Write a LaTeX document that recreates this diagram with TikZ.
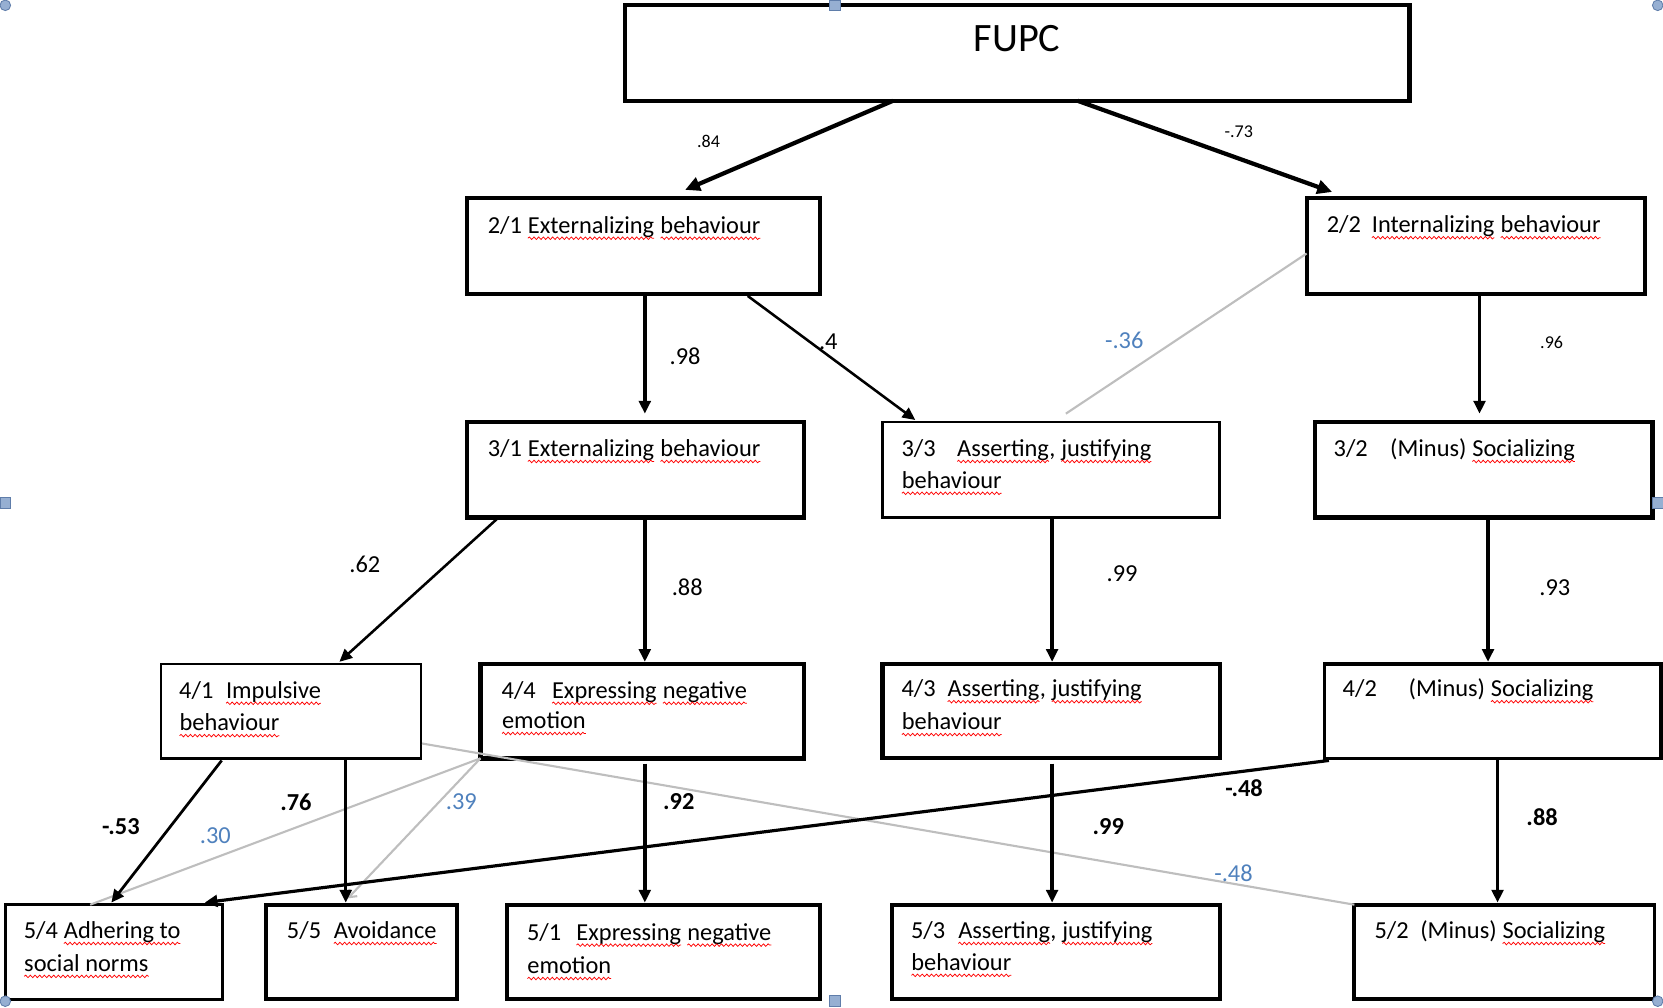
\documentclass[tikz,border=0pt]{standalone}
\usepackage{fontspec}
\setmainfont{Carlito}
\usetikzlibrary{arrows.meta,calc,decorations.pathmorphing}
\definecolor{lblue}{RGB}{79,129,189}
\definecolor{lgray}{RGB}{190,190,190}
\definecolor{hfill}{RGB}{150,175,210}
\definecolor{hdraw}{RGB}{95,125,170}
\tikzset{
  sqline/.style={draw=red, line width=0.35pt, decorate,
    decoration={snake, amplitude=0.6pt, segment length=2.2pt}},
}
\newcommand\sq[1]{\tikz[baseline=(sqw.base)]{\node[inner sep=0pt,outer sep=0pt,anchor=base west,draw=none](sqw){#1};\draw[sqline]([yshift=-2.3pt]sqw.base west)--([yshift=-2.3pt]sqw.base east);}}
\newcommand\wbox[6]{\node[bx, line width=#6pt, minimum width={(#4-#2)*0.5pt}, minimum height={(#5-#3)*0.5pt}] (#1) at (#2,#3) {};}
\begin{document}
\begin{tikzpicture}[x=0.5pt,y=-0.5pt,
  bx/.style={draw=black, inner sep=0pt, outer sep=0pt, anchor=north west},
  tx/.style={inner sep=0pt, outer sep=0pt, anchor=base west, font=\fontsize{11.5}{14}\selectfont},
  lab/.style={inner sep=0pt, outer sep=0pt, font=\fontsize{11.5}{14}\selectfont},
  blab/.style={inner sep=0pt, outer sep=0pt, font=\fontsize{11.5}{14}\selectfont\bfseries},
  slab/.style={inner sep=0pt, outer sep=0pt, font=\fontsize{8.5}{10}\selectfont},
  ulab/.style={lab, text=lblue},
  arr/.style={draw=black, line width=1.6pt, -{Triangle[length=6pt,width=5.5pt]}},
  garr/.style={draw=lgray, line width=1pt},
  hc/.style={fill=hfill, draw=hdraw, line width=0.4pt},
]
\useasboundingbox (0,0) rectangle (1568,950);
\clip (0,0) rectangle (1568,950);

% boxes
\wbox{fupc}{589}{5}{1329}{95}{2}
\wbox{b21}{440}{187}{773}{277}{1.8}
\wbox{b22}{1232}{187}{1551}{277}{1.8}
\wbox{b31}{440}{398}{758}{488}{2}
\wbox{b33}{832}{398}{1150}{488}{1.2}
\wbox{b32}{1240}{398}{1558}{488}{2.2}
\wbox{b41}{152}{626}{397}{715}{1.2}
\wbox{b44}{453}{626}{758}{715}{2.2}
\wbox{b43}{832}{626}{1150}{715}{2}
\wbox{b42}{1249}{626}{1566}{715}{1.6}
\wbox{b54}{5}{853}{210}{942}{1.4}
\wbox{b55}{251}{853}{431}{942}{2}
\wbox{b51}{478}{853}{773}{942}{2}
\wbox{b53}{841}{853}{1150}{942}{2}
\wbox{b52}{1277}{853}{1560}{942}{1.8}

% texts
\node[inner sep=0pt, anchor=base, font=\fontsize{19}{22}\selectfont] (tfupc) at (959,49) {FUPC};
\node[tx] (t21) at (460,220) {2/1 \sq{Externalizing} \sq{behaviour}};
\node[tx] (t22) at (1251,219.5) {2/2\hspace{5pt}\sq{Internalizing} \sq{behaviour}};
\node[tx] (t31) at (460,430.5) {3/1 \sq{Externalizing} \sq{behaviour}};
\node[tx] (t33a) at (850,430.5) {3/3\hspace{10pt}\sq{Asserting}, \sq{justifying}};
\node[tx] (t33b) at (850,460.5) {\sq{behaviour}};
\node[tx] (t32) at (1257.5,430.5) {3/2\hspace{10.5pt}(Minus) \sq{Socializing}};
\node[tx] (t41a) at (169,658.5) {4/1\hspace{5.8pt}\sq{Impulsive}};
\node[tx] (t41b) at (169,689) {\sq{behaviour}};
\node[tx] (t44a) at (473,658.5) {4/4\hspace{7.5pt}\sq{Expressing} \sq{negative}};
\node[tx] (t44b) at (473,687) {\sq{emotion}};
\node[tx] (t43a) at (850,657) {4/3\hspace{5.5pt}\sq{Asserting}, \sq{justifying}};
\node[tx] (t43b) at (850,688) {\sq{behaviour}};
\node[tx] (t42) at (1266,657) {4/2\hspace{15pt}(Minus) \sq{Socializing}};
\node[tx] (t54a) at (22.5,885) {5/4 \sq{Adhering to}};
\node[tx] (t54b) at (22.5,916) {\sq{social norms}};
\node[tx] (t55) at (270.6,885) {5/5\hspace{5.8pt}\sq{Avoidance}};
\node[tx] (t51a) at (497,886.5) {5/1\hspace{7pt}\sq{Expressing} \sq{negative}};
\node[tx] (t51b) at (497,918) {\sq{emotion}};
\node[tx] (t53a) at (859,885) {5/3\hspace{6pt}\sq{Asserting}, \sq{justifying}};
\node[tx] (t53b) at (859,915) {\sq{behaviour}};
\node[tx] (t52) at (1296,885) {5/2\hspace{5.5pt}(Minus) \sq{Socializing}};

% gray connectors
\draw[garr] ($(b22.south west)+(0,-38)$) -- ($(b33.north west)+(173,-8)$);
\draw[garr] (b44.south west) -- ($(b54.north west)+(80,0)$);
\draw[garr, -{Straight Barb[length=3pt,width=5pt]}] (b44.south west) -- ($(b55.north west)+(77,-6)$);
\draw[garr] ($(b41.south east)+(1,-14)$) -- (b52.north west);

% black connectors
\draw[arr, line width=2pt, -{Triangle[length=7pt,width=6.5pt]}] ($(fupc.south west)+(253,0)$) -- ($(b21.north west)+(206,-8)$);
\draw[arr, line width=2pt, -{Triangle[length=7pt,width=6.5pt]}] ($(fupc.south west)+(427,0)$) -- ($(b22.north west)+(24,-6)$);
\draw[arr] ($(b21.south west)+(168,0)$) -- ($(b31.north west)+(168,-8)$);
\draw[arr, line width=1.2pt] ($(b21.south west)+(265,2)$) -- ($(b33.north west)+(31,-2)$);
\draw[arr] ($(b22.south west)+(163,0)$) -- ($(b32.north west)+(155,-8)$);
\draw[arr, line width=1.2pt] ($(b31.south west)+(30,0)$) -- ($(b41.north west)+(168,-2)$);
\draw[arr] ($(b31.south west)+(168,0)$) -- ($(b44.north west)+(155,-2)$);
\draw[arr] ($(b33.south west)+(160,0)$) -- ($(b43.north west)+(160,-2)$);
\draw[arr] ($(b32.south west)+(163,0)$) -- ($(b42.north west)+(154,-2)$);
\draw[arr, line width=1.3pt] ($(b41.south west)+(57,2)$) -- ($(b54.north west)+(100,-2)$);
\draw[arr] ($(b41.south west)+(174,0)$) -- ($(b55.north west)+(75,-2)$);
\draw[arr] ($(b44.south west)+(155,5)$) -- ($(b51.north west)+(130,-2)$);
\draw[arr, line width=1.5pt] ($(b42.south west)+(4,2)$) -- ($(b54.north west)+(188,-2)$);
\draw[arr] ($(b43.south west)+(160,5)$) -- ($(b53.north west)+(151,-2)$);
\draw[arr] ($(b42.south west)+(163,0)$) -- ($(b52.north west)+(135,-2)$);

% labels
\node[slab] (l84) at (668,133) {.84};
\node[slab] (l73) at (1168,124) {-.73};
\node[lab] (l98) at (646,336) {.98};
\node[lab] (l4) at (781,322) {.4};
\node[ulab] (l36) at (1060,321) {-.36};
\node[slab] (l96) at (1463,323) {.96};
\node[lab] (l62) at (344,532) {.62};
\node[lab] (l88a) at (648,554) {.88};
\node[lab] (l99a) at (1058,541) {.99};
\node[lab] (l93) at (1466,554) {.93};
\node[blab] (l53) at (114,779) {-.53};
\node[blab] (l76) at (279,756) {.76};
\node[ulab] (l30) at (203,788) {.30};
\node[ulab] (l39) at (435,756) {.39};
\node[blab] (l92) at (640,756) {.92};
\node[blab] (l48b) at (1173,743) {-.48};
\node[blab] (l99b) at (1045,779) {.99};
\node[blab] (l88b) at (1454,770) {.88};
\node[ulab] (l48g) at (1163,823) {-.48};

% selection handles
\foreach \p in {(5,5),(1563,5),(5,944),(1563,944)} \fill[hc] \p circle (5);
\foreach \p in {(787,5),(5,474),(1563,474),(787,944)} \filldraw[hc] \p ++(-5,-5) rectangle ++(10,10);
\end{tikzpicture}
\end{document}
